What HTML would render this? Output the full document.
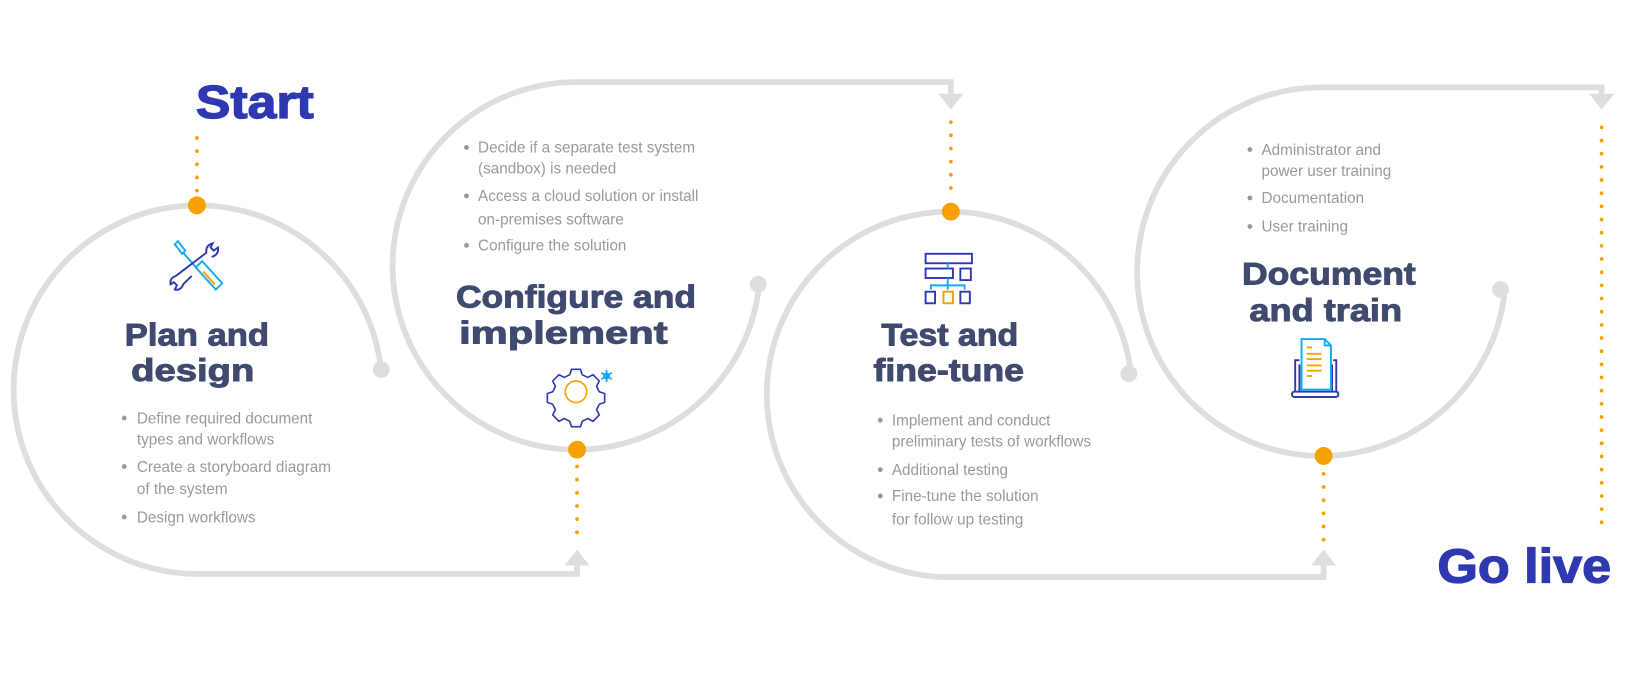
<!DOCTYPE html>
<html><head><meta charset="utf-8"><style>
html,body{margin:0;padding:0;background:#fff;}
svg{display:block;}
text{font-family:"Liberation Sans",sans-serif;}
.h{font-weight:bold;fill:#3f4a6e;stroke:#3f4a6e;stroke-width:0.9px;font-size:30px;text-anchor:middle;}
.b{fill:#9a9a9a;font-size:14.5px;}
.big{font-weight:bold;fill:#2e38b0;stroke:#2e38b0;stroke-width:1.2px;}
</style></head><body>
<svg width="1649" height="675" viewBox="0 0 1566 641" preserveAspectRatio="none" xmlns="http://www.w3.org/2000/svg">
<g fill="none" stroke="#dedede" stroke-width="5.5">
<path d="M362 352 A175 175 0 1 0 187 545 H548 V534"/>
<path d="M721 270 A174.5 174.5 0 1 1 548 78 H903 V92"/>
<path d="M1074 354 A173.5 173.5 0 1 0 903 548 H1257 V534"/>
<path d="M1429 276 A175 175 0 1 1 1257 83 H1521 V92"/>
</g>
<g fill="#dedede">
<polygon points="536,537 560,537 548,522"/>
<polygon points="891,89 915,89 903,104"/>
<polygon points="1245,537 1269,537 1257,522"/>
<polygon points="1509,89 1533,89 1521,104"/>
<circle cx="362" cy="351" r="8"/>
<circle cx="720" cy="270" r="8"/>
<circle cx="1072" cy="355" r="8"/>
<circle cx="1425" cy="275" r="8"/>
</g>
<g stroke="#f7a000" stroke-width="3.6" stroke-linecap="round" stroke-dasharray="0 12.5" fill="none">
<line x1="187" y1="131" x2="187" y2="185"/>
<line x1="548" y1="443" x2="548" y2="512"/>
<line x1="903" y1="116" x2="903" y2="190"/>
<line x1="1257" y1="450" x2="1257" y2="515"/>
<line x1="1521" y1="121" x2="1521" y2="500"/>
</g>
<g fill="#f7a000">
<circle cx="187" cy="195" r="8.5"/>
<circle cx="548" cy="427" r="8.5"/>
<circle cx="903" cy="201" r="8.5"/>
<circle cx="1257" cy="433" r="8.5"/>
</g>
<text class="big" x="186" y="112" font-size="44" textLength="112" lengthAdjust="spacingAndGlyphs">Start</text>
<text class="big" x="1365" y="553" font-size="46" textLength="165" lengthAdjust="spacingAndGlyphs">Go live</text>

<text class="h" x="187" y="328" textLength="137" lengthAdjust="spacingAndGlyphs">Plan and</text>
<text class="h" x="183" y="362" textLength="117" lengthAdjust="spacingAndGlyphs">design</text>
<text class="h" x="547" y="292" textLength="228" lengthAdjust="spacingAndGlyphs">Configure and</text>
<text class="h" x="535" y="326" textLength="198" lengthAdjust="spacingAndGlyphs">implement</text>
<text class="h" x="902" y="328" textLength="130" lengthAdjust="spacingAndGlyphs">Test and</text>
<text class="h" x="901" y="362" textLength="143" lengthAdjust="spacingAndGlyphs">fine-tune</text>
<text class="h" x="1262" y="270" textLength="165" lengthAdjust="spacingAndGlyphs">Document</text>
<text class="h" x="1259" y="305" textLength="145" lengthAdjust="spacingAndGlyphs">and train</text>

<g fill="#9a9a9a">
<circle cx="118" cy="397" r="2.3"/><circle cx="118" cy="443" r="2.3"/><circle cx="118" cy="491" r="2.3"/>
<circle cx="443" cy="140" r="2.3"/><circle cx="443" cy="186" r="2.3"/><circle cx="443" cy="233" r="2.3"/>
<circle cx="836" cy="399" r="2.3"/><circle cx="836" cy="446" r="2.3"/><circle cx="836" cy="471" r="2.3"/>
<circle cx="1187" cy="142" r="2.3"/><circle cx="1187" cy="188" r="2.3"/><circle cx="1187" cy="215" r="2.3"/>
</g>
<text class="b" x="130" y="402">Define required document</text>
<text class="b" x="130" y="422">types and workflows</text>
<text class="b" x="130" y="448">Create a storyboard diagram</text>
<text class="b" x="130" y="469">of the system</text>
<text class="b" x="130" y="496">Design workflows</text>

<text class="b" x="454" y="145">Decide if a separate test system</text>
<text class="b" x="454" y="165">(sandbox) is needed</text>
<text class="b" x="454" y="191">Access a cloud solution or install</text>
<text class="b" x="454" y="213">on-premises software</text>
<text class="b" x="454" y="238">Configure the solution</text>

<text class="b" x="847" y="404">Implement and conduct</text>
<text class="b" x="847" y="424">preliminary tests of workflows</text>
<text class="b" x="847" y="451">Additional testing</text>
<text class="b" x="847" y="476">Fine-tune the solution</text>
<text class="b" x="847" y="498">for follow up testing</text>

<text class="b" x="1198" y="147">Administrator and</text>
<text class="b" x="1198" y="167">power user training</text>
<text class="b" x="1198" y="193">Documentation</text>
<text class="b" x="1198" y="220">User training</text>

<!-- tools icon -->
<g fill="none" stroke-width="1.8">
<path d="M166 232 L169 229 L176 238 L173 241 Z M174 240 L188 256" stroke="#12a9f0"/>
<path d="M186 254 L192 248 L211 269 L205 275 Z" stroke="#12a9f0"/>
<path d="M193 258 L204 270" stroke="#f7a000"/>
<path d="M182 262 L174 270 Q172 276 166 275 L168 271 L165 268 L162 270 Q161 264 167 262 L196 240 Q195 233 202 231 L200 235 L203 238 L207 235 Q208 242 201 244" stroke="#2e38b0"/>
</g>
<!-- gear icon -->
<g fill="none" stroke-width="1.8" transform="translate(547 372) scale(0.85) translate(-547 -372)">
<path d="M542 347 h10 l2 6 l6 3 l6 -3 l7 7 l-3 6 l3 6 l6 2 v10 l-6 2 l-3 6 l3 6 l-7 7 l-6 -3 l-6 3 l-2 6 h-10 l-2 -6 l-6 -3 l-6 3 l-7 -7 l3 -6 l-3 -6 l-6 -2 v-10 l6 -2 l3 -6 l-3 -6 l7 -7 l6 3 l6 -3 z" stroke="#2e38b0"/>
<circle cx="547" cy="372" r="12" stroke="#f7a000"/>
</g>
<g fill="none" stroke-width="1.6">
<path d="M576 351 v12 M571 354 l10 6 M571 360 l10 -6" stroke="#12a9f0"/>
<circle cx="576" cy="357" r="2.5" stroke="#12a9f0"/>
</g>
<!-- org chart icon -->
<g fill="none" stroke-width="1.8">
<rect x="879" y="241" width="44" height="9" stroke="#2e38b0"/>
<rect x="879" y="255" width="26" height="9" stroke="#2e38b0"/>
<rect x="912" y="255" width="10" height="11" stroke="#2e38b0"/>
<path d="M900 250 v5 M900 264 v11 M884 275 v-4 h32 v4" stroke="#12a9f0"/>
<rect x="879" y="277" width="9" height="11" stroke="#2e38b0"/>
<rect x="896" y="277" width="9" height="11" stroke="#f7a000"/>
<rect x="912" y="277" width="9" height="11" stroke="#2e38b0"/>
</g>
<!-- document laptop icon -->
<g fill="none" stroke-width="1.8">
<path d="M1230 372 v-30 h4 M1266 342 h3 v30" stroke="#2e38b0"/>
<path d="M1234 372 v-26 M1265 346 v26" stroke="#2e38b0"/>
<rect x="1227" y="372" width="44" height="5" rx="2" stroke="#2e38b0"/>
<path d="M1236 339 v-17 h22 l6 6 v42 h-28 z M1258 322 v6 h6" stroke="#12a9f0"/>
<path d="M1241 330 h5 M1241 336 h14 M1241 341 h14 M1241 347 h14 M1241 352 h14 M1241 357 h5" stroke="#f7a000"/>
</g>
</svg>
</body></html>
